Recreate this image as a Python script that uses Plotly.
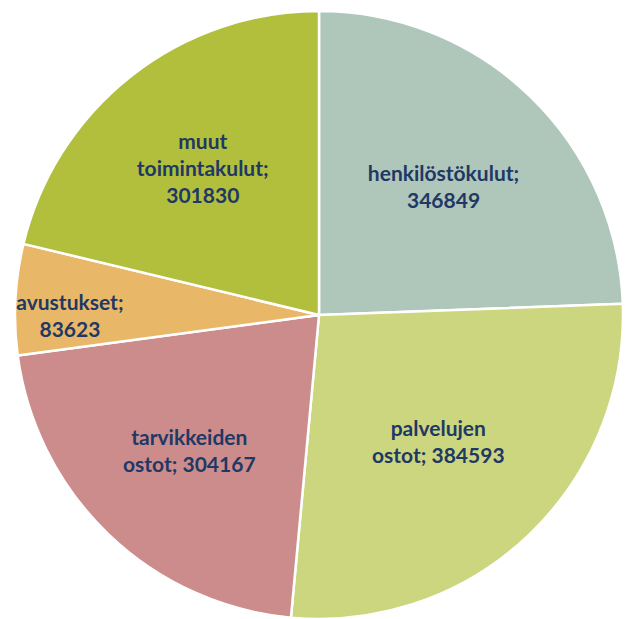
import plotly.graph_objects as go

categories = ["henkilöstökulut", "palvelujen ostot", "tarvikkeiden ostot", "avustukset", "muut toimintakulut"]
values = [346849, 384593, 304167, 83623, 301830]
label_text = ["henkilöstökulut;<br>346849", "palvelujen<br>ostot; 384593", "tarvikkeiden<br>ostot; 304167",
              "avustukset;<br>83623", "muut<br>toimintakulut;<br>301830"]
colors = ["#AFC6BA", "#CCD67F", "#CD8C8C", "#E8B868", "#B2BF3C"]

fig = go.Figure(go.Pie(
    labels=categories, values=values, text=label_text,
    textinfo="text", textposition="inside", insidetextorientation="horizontal",
    sort=False, direction="clockwise", rotation=0,
    marker=dict(colors=colors, line=dict(color="white", width=2.5)),
    textfont=dict(family="Lato", size=21, color="#1F3864", weight="bold"),
    domain=dict(x=[14/627, 624/627], y=[0, 1 - 11/619]),
    showlegend=False, hoverinfo="label+value",
))
fig.update_layout(width=627, height=619, margin=dict(l=0, r=0, t=0, b=0),
                  paper_bgcolor="white", uniformtext=dict(minsize=21, mode="show"))
fig.write_html("out.html")
